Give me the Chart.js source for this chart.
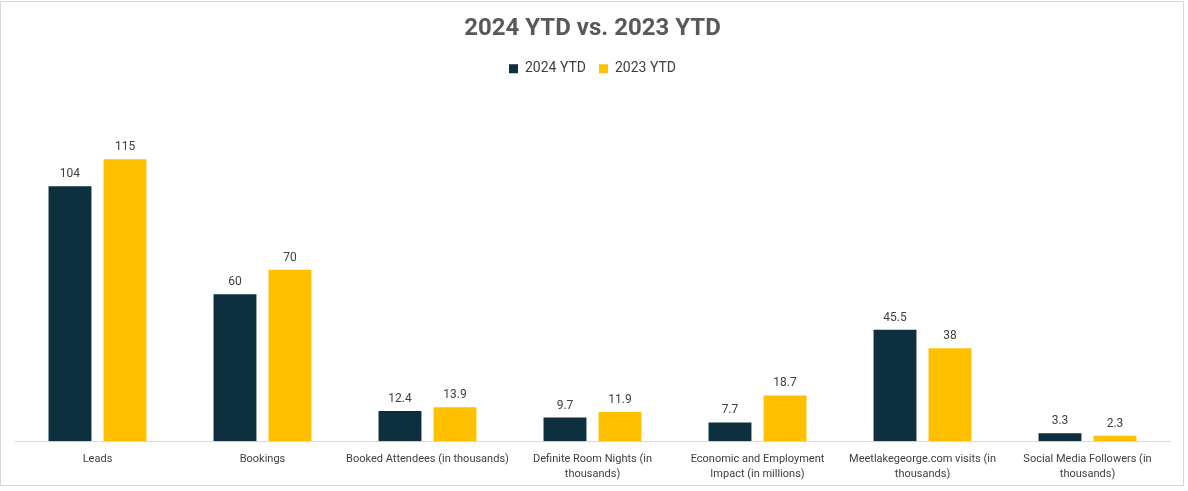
<!DOCTYPE html>
<html>
<head>
<meta charset="utf-8">
<script src="https://cdn.jsdelivr.net/npm/chart.js@4"></script>
<style>
  html, body { margin: 0; padding: 0; background: #fff; }
  #frame { position: absolute; left: 0; top: 1px; width: 1184px; height: 485px; border: 1px solid #d6d6d6; box-sizing: border-box; }
</style>
</head>
<body>
<div id="frame"><canvas id="ytdChart"></canvas></div>
<script>
var categories = [
    'Leads',
    'Bookings',
    'Booked Attendees (in thousands)',
    ['Definite Room Nights (in', 'thousands)'],
    ['Economic and Employment', 'Impact (in millions)'],
    ['Meetlakegeorge.com visits (in', 'thousands)'],
    ['Social Media Followers (in', 'thousands)']
];
var ytd2024 = [104, 60, 12.4, 9.7, 7.7, 45.5, 3.3];
var ytd2023 = [115, 70, 13.9, 11.9, 18.7, 38, 2.3];

var fontFamily = 'Roboto, "Open Sans", sans-serif';

// draws the value above each bar
var valueLabels = {
    id: 'valueLabels',
    afterDatasetsDraw: function(chart) {
        var ctx = chart.ctx;
        ctx.save();
        ctx.font = '12px ' + fontFamily;
        ctx.fillStyle = '#404040';
        ctx.textAlign = 'center';
        ctx.textBaseline = 'bottom';
        chart.data.datasets.forEach(function(ds, i) {
            chart.getDatasetMeta(i).data.forEach(function(bar, j) {
                ctx.fillText(String(ds.data[j]), bar.x, bar.y - 6);
            });
        });
        ctx.restore();
    }
};

var ctx = document.getElementById('ytdChart').getContext('2d');
var chart = new Chart(ctx, {
    type: 'bar',
    data: {
        labels: categories,
        datasets: [{
            label: '2024 YTD',
            data: ytd2024,
            backgroundColor: '#0D2F3E',
            categoryPercentage: 0.667,
            barPercentage: 0.78
        }, {
            label: '2023 YTD',
            data: ytd2023,
            backgroundColor: '#FFC000',
            categoryPercentage: 0.667,
            barPercentage: 0.78
        }]
    },
    options: {
        responsive: true,
        maintainAspectRatio: false,
        animation: false,
        layout: { padding: { left: 14, right: 13, top: 4, bottom: 0 } },
        plugins: {
            title: {
                display: true,
                text: '2024 YTD vs. 2023 YTD',
                color: '#595959',
                font: { family: fontFamily, size: 24, weight: 'bold' },
                padding: { top: 9, bottom: 5 }
            },
            legend: {
                labels: {
                    color: '#404040',
                    font: { family: fontFamily, size: 14 },
                    boxWidth: 9,
                    boxHeight: 9,
                    padding: 13
                }
            },
            tooltip: { enabled: false }
        },
        scales: {
            x: {
                grid: { display: false },
                border: { color: '#d9d9d9' },
                ticks: {
                    color: '#404040',
                    font: { family: fontFamily, size: 11, lineHeight: 1.35 },
                    maxRotation: 0,
                    autoSkip: false,
                    padding: 3
                }
            },
            y: {
                display: false,
                beginAtZero: true,
                max: 145
            }
        }
    },
    plugins: [valueLabels]
});
</script>
</body>
</html>
